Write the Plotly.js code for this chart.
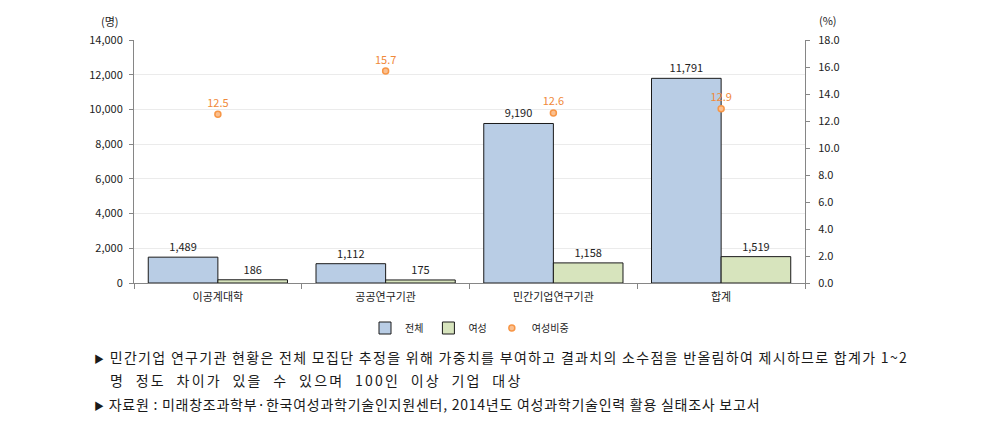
<!DOCTYPE html>
<html>
<head>
<meta charset="utf-8">
<script src="https://cdn.plot.ly/plotly-3.0.1.min.js"></script>
<style>
html,body{margin:0;padding:0;background:#fff;}
#chart{width:999px;height:425px;}
</style>
</head>
<body>
<div id="chart"></div>
<script>
var categories = ["이공계대학", "공공연구기관", "민간기업연구기관", "합계"];
var totalValues = [1489, 1112, 9190, 11791];
var femaleValues = [186, 175, 1158, 1519];
var femaleRatio = [12.5, 15.7, 12.6, 12.9];
var seriesNames = ["전체", "여성", "여성비중"];
var leftTicks = [0, 2000, 4000, 6000, 8000, 10000, 12000, 14000];
var rightTicks = [0, 2, 4, 6, 8, 10, 12, 14, 16, 18];
var bullet = "<span style='font-size:10px'>▶</span>";
var notes = [
  bullet + " 민간기업 연구기관 현황은 전체 모집단 추정을 위해 가중치를 부여하고 결과치의 소수점을 반올림하여 제시하므로 합계가 1~2",
  "\u00a0\u00a0\u00a0명\u00a0\u00a0정도\u00a0\u00a0차이가\u00a0\u00a0있을\u00a0\u00a0수\u00a0\u00a0있으며\u00a0\u00a0100인\u00a0\u00a0이상\u00a0\u00a0기업\u00a0\u00a0대상",
  bullet + " 자료원 : 미래창조과학부·한국여성과학기술인지원센터, 2014년도 여성과학기술인력 활용 실태조사 보고서"
];
var noteSpacing = [1.3, 2.2, 0.75];

var FONT = "'Noto Sans CJK KR', 'Noto Sans', sans-serif";
function fmt(v){ return v.toLocaleString('en-US'); }

var traces = [
  {
    type: 'bar', name: seriesNames[0], x: categories, y: totalValues,
    marker: {color: '#B9CDE5', line: {color: '#1a1a1a', width: 1}},
    text: totalValues.map(fmt), textposition: 'outside', cliponaxis: false,
    textfont: {family: FONT, size: 11, color: '#222'}
  },
  {
    type: 'bar', name: seriesNames[1], x: categories, y: femaleValues,
    marker: {color: '#D7E4BD', line: {color: '#1a1a1a', width: 1}},
    text: femaleValues.map(fmt), textposition: 'outside', cliponaxis: false,
    textfont: {family: FONT, size: 11, color: '#222'}
  },
  {
    type: 'scatter', mode: 'markers+text', name: seriesNames[2], x: categories, y: femaleRatio,
    yaxis: 'y2',
    marker: {symbol: 'circle', size: 6, color: '#FAC090', line: {color: '#F79646', width: 1.5}},
    text: femaleRatio.map(function(v){return v.toFixed(1);}), textposition: 'top center',
    textfont: {family: FONT, size: 11, color: '#F0893A'}, cliponaxis: false
  }
];

var annotations = [
  {text: '(명)', xref: 'paper', yref: 'paper', x: (110-134)/671, y: (283-21)/243, xanchor: 'center', yanchor: 'middle', showarrow: false, font: {family: FONT, size: 11, color: '#222'}},
  {text: '(%)', xref: 'paper', yref: 'paper', x: (828-134)/671, y: (283-20)/243, xanchor: 'center', yanchor: 'middle', showarrow: false, font: {family: FONT, size: 11, color: '#222'}}
];
var noteY = [357, 380, 404];
notes.forEach(function(t, i){
  annotations.push({text: t, xref: 'paper', yref: 'paper', x: (92-134)/671, y: (283-noteY[i])/243, xanchor: 'left', yanchor: 'middle', align: 'left', showarrow: false, font: {family: FONT, size: 14, color: '#1a1a1a'}});
});

var layout = {
  width: 999, height: 425,
  margin: {l: 134, r: 194, t: 40, b: 142},
  paper_bgcolor: '#fff', plot_bgcolor: '#fff',
  font: {family: FONT, size: 11, color: '#222'},
  barmode: 'group', bargap: 0.17, bargroupgap: 0,
  showlegend: true,
  legend: {orientation: 'h', x: 0.5, xanchor: 'center', y: (283-328)/243, yanchor: 'middle', font: {family: FONT, size: 10, color: '#222'}, itemwidth: 30, tracegroupgap: 0},
  xaxis: {
    type: 'category', tickson: 'boundaries', ticks: 'outside', ticklen: 5, tickcolor: '#868686',
    showline: true, linecolor: '#868686', linewidth: 1, showgrid: false, ticklabelstandoff: 4,
    tickfont: {family: FONT, size: 11, color: '#222'}
  },
  yaxis: {
    range: [0, 14000], tickvals: leftTicks, ticktext: leftTicks.map(fmt),
    ticks: 'outside', ticklen: 4, tickcolor: '#868686', showline: true, linecolor: '#868686', ticklabelstandoff: 4,
    gridcolor: '#EBEBEB', zeroline: false, tickfont: {family: FONT, size: 11, color: '#222'}
  },
  yaxis2: {
    range: [0, 18], overlaying: 'y', side: 'right', tickvals: rightTicks, ticktext: rightTicks.map(function(v){return v.toFixed(1);}),
    ticks: 'outside', ticklen: 4, tickcolor: '#868686', showline: true, linecolor: '#868686', ticklabelstandoff: 6,
    showgrid: false, zeroline: false, tickfont: {family: FONT, size: 11, color: '#222'}
  },
  annotations: annotations
};

Plotly.newPlot('chart', traces, layout, {displayModeBar: false, staticPlot: true}).then(function(gd){
  var texts = gd.querySelectorAll('.annotation .annotation-text');
  for (var i = 0; i < notes.length; i++) {
    var el = texts[i + 2];
    if (el) el.style.letterSpacing = noteSpacing[i] + 'px';
  }
});
</script>
</body>
</html>
